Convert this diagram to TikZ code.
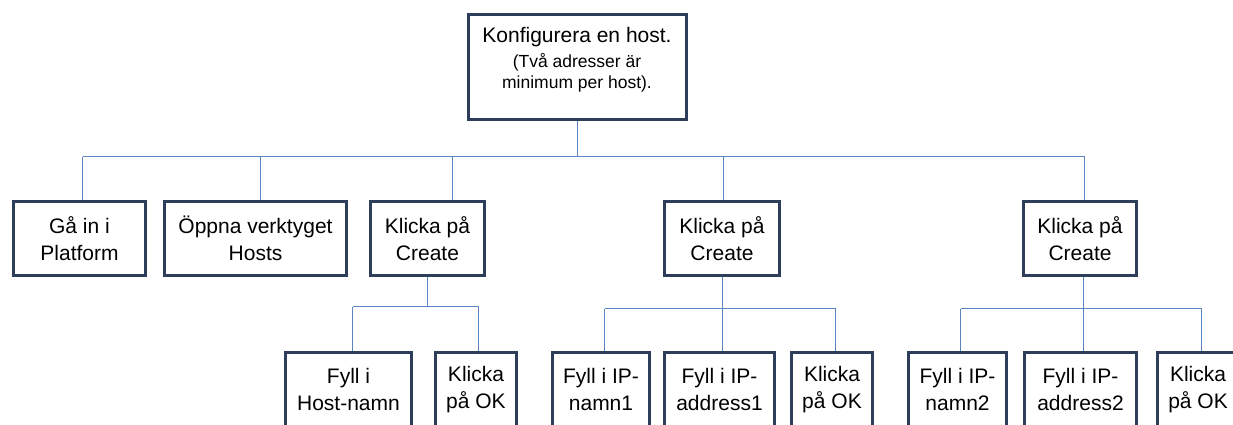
\documentclass[tikz,border=0pt]{standalone}
\usepackage{fontspec}
\setmainfont{Liberation Sans}
\usetikzlibrary{calc}
\definecolor{boxc}{HTML}{2C3E5A}
\definecolor{linec}{HTML}{5A86C3}
\pgfdeclarelayer{background}
\pgfsetlayers{background,main}
\begin{document}
\begin{tikzpicture}[x=1pt,y=-1pt,
  box/.style={draw=boxc, line width=2.8pt, fill=white, inner sep=0pt, align=center,
              font=\fontsize{21}{27}\selectfont, minimum height=74.2pt},
  conn/.style={draw=linec, line width=1.2pt},
  txt/.style={inner sep=0pt, align=center}]
\useasboundingbox (0,0) rectangle (1233,425);
\clip (0,0) rectangle (1233,425);

% top
\node[box, minimum width=218pt, minimum height=105pt] (top) at (577.5,67) {};
\node[txt, anchor=north, font=\fontsize{21}{25}\selectfont] (toptext) at (577,27.5)
  {Konfigurera en host.\\{\fontsize{17.5}{21}\selectfont (Två adresser är}\\[-4pt]{\fontsize{17.5}{21}\selectfont minimum per host).}};

% level 2
\node[box, minimum width=132pt] (b1) at (79.5,238.5) {Gå in i\\Platform};
\node[box, minimum width=182pt] (b2) at (255.5,238.5) {Öppna verktyget\\Hosts};
\node[box, minimum width=114pt] (b3) at (427.5,238.5) {Klicka på\\Create};
\node[box, minimum width=115pt] (b4) at (722,238.5) {Klicka på\\Create};
\node[box, minimum width=113pt] (b5) at (1080,238.5) {Klicka på\\Create};

% level 3
\node[box, minimum width=126pt] (b6) at (348.5,389.3) {Fyll i\\Host-namn};
\node[box, minimum width=81pt] (b7) at (476,389.3) {Klicka\\på OK};
\node[box, minimum width=97pt] (b8) at (601,389.3) {Fyll i IP-\\namn1};
\node[box, minimum width=110pt] (b9) at (719.5,389.3) {Fyll i IP-\\address1};
\node[box, minimum width=81pt] (b10) at (832,389.3) {Klicka\\på OK};
\node[box, minimum width=98pt] (b11) at (957.5,389.3) {Fyll i IP-\\namn2};
\node[box, minimum width=112pt] (b12) at (1080.5,389.3) {Fyll i IP-\\address2};
\node[box, minimum width=81pt] (b13) at (1198,389.3) {Klicka\\på OK};

% connectors
\coordinate (j0) at (577.5,156.5);
\coordinate (j1) at (82.5,156.5);
\coordinate (j2) at (260.5,156.5);
\coordinate (j3) at (452.5,156.5);
\coordinate (j4) at (723.5,156.5);
\coordinate (j5) at (1084.5,156.5);
\coordinate (k3) at (427.5,306.5);
\coordinate (k6) at (352.5,306.5);
\coordinate (k7) at (478.5,306.5);
\coordinate (k8) at (604.5,308.5);
\coordinate (k9) at (722.5,308.5);
\coordinate (k10) at (835.5,308.5);
\coordinate (k11) at (960.5,308.5);
\coordinate (k12) at (1083.5,308.5);
\coordinate (k13) at (1201.5,308.5);
\begin{pgfonlayer}{background}
\draw[conn] (top.south -| j0) -- (j0);
\draw[conn] (j1) -- (j5);
\draw[conn] (j1) -- (j1 |- b1.north);
\draw[conn] (j2) -- (j2 |- b2.north);
\draw[conn] (j3) -- (j3 |- b3.north);
\draw[conn] (j4) -- (j4 |- b4.north);
\draw[conn] (j5) -- (j5 |- b5.north);
% under b3
\draw[conn] (b3.south -| k3) -- (k3);
\draw[conn] (k6) -- (k7);
\draw[conn] (k6) -- (k6 |- b6.north);
\draw[conn] (k7) -- (k7 |- b7.north);
% under b4
\draw[conn] (b4.south -| k9) -- (k9);
\draw[conn] (k8) -- (k10);
\draw[conn] (k8) -- (k8 |- b8.north);
\draw[conn] (k9) -- (k9 |- b9.north);
\draw[conn] (k10) -- (k10 |- b10.north);
% under b5
\draw[conn] (b5.south -| k12) -- (k12);
\draw[conn] (k11) -- (k13);
\draw[conn] (k11) -- (k11 |- b11.north);
\draw[conn] (k12) -- (k12 |- b12.north);
\draw[conn] (k13) -- (k13 |- b13.north);
\end{pgfonlayer}
\end{tikzpicture}
\end{document}
